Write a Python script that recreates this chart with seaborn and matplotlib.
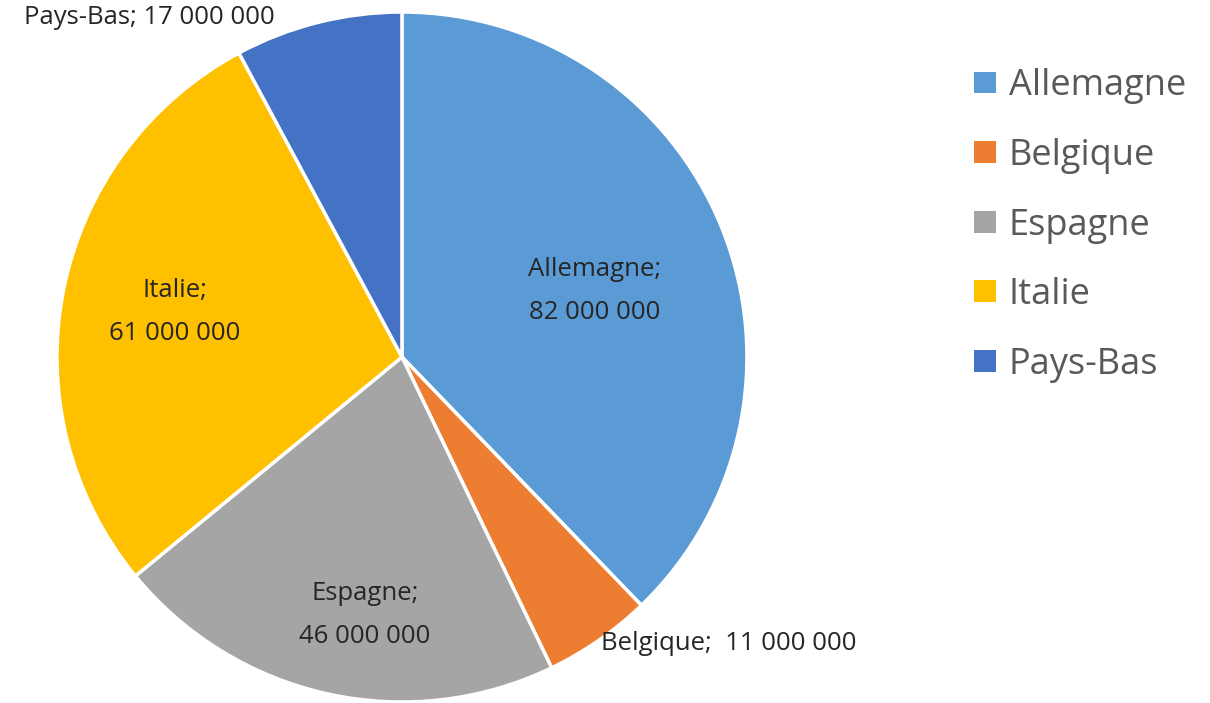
import numpy as np
import matplotlib
matplotlib.use("Agg")
import matplotlib.pyplot as plt
import seaborn as sns
from matplotlib.patches import Patch

countries = ["Allemagne", "Belgique", "Espagne", "Italie", "Pays-Bas"]
population = [82000000, 11000000, 46000000, 61000000, 17000000]
label_texts = ["Allemagne;\n82 000 000", "Belgique;  11 000 000", "Espagne;\n46 000 000",
               "Italie;\n61 000 000", "Pays-Bas; 17 000 000"]

sns.set_theme(style="white")
plt.rcParams["font.family"] = ["Open Sans", "DejaVu Sans"]
colors = sns.color_palette(["#5B9BD5", "#ED7D31", "#A5A5A5", "#FFC000", "#4472C4"])

fig = plt.figure(figsize=(12.10, 7.03), dpi=100)
ax = fig.add_axes([0.0471, 0.0014, 0.5702, 0.9815])
wedges, _ = ax.pie(population, colors=colors, startangle=90, counterclock=False,
                   wedgeprops=dict(edgecolor="white", linewidth=2.5))
ax.set_xlim(-1, 1)
ax.set_ylim(-1, 1)
ax.set_aspect("auto")

LBL = 18.5
# label anchors (axes data units, pie radius = 1) and alignment
label_pos = [(0.559, 0.191, "center"), (0.577, -0.829, "left"), (-0.107, -0.748, "center"),
             (-0.658, 0.130, "center"), (-0.733, 0.983, "center")]
for txt, (x, y, ha) in zip(label_texts, label_pos):
    ax.text(x, y, txt, ha=ha, va="center", fontsize=LBL, color="#262626",
            linespacing=1.95, clip_on=False)

handles = [Patch(facecolor=c, edgecolor="none") for c in colors]
fig.legend(handles, countries, loc="upper left", bbox_to_anchor=(0.778, 0.949),
           frameon=False, fontsize=26, labelcolor="#595959", handlelength=0.61,
           handleheight=0.55, handletextpad=0.36, labelspacing=0.93)

fig.savefig("out.png", dpi=100, facecolor="white")
